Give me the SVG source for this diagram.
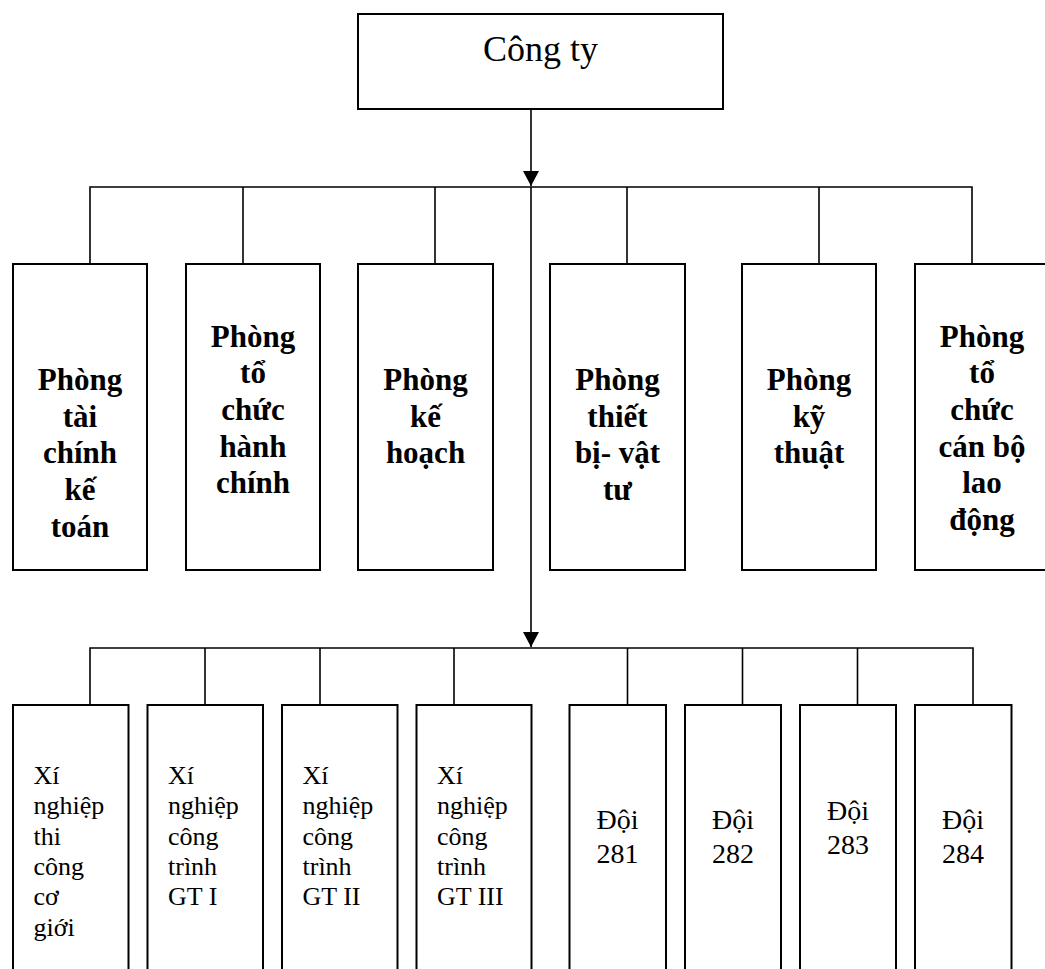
<svg xmlns="http://www.w3.org/2000/svg" width="1045" height="969" viewBox="0 0 1045 969">
<style>
.box{fill:#fff;stroke:#000;stroke-width:2}
.ln{fill:none;stroke:#000;stroke-width:1.6}
.t{font-family:"Liberation Serif","Times New Roman",serif;fill:#000}
.b{font-weight:bold;font-size:31px;text-anchor:middle}
.r{font-size:26px}
.d{font-size:28px;text-anchor:middle}
</style>
<defs>
<marker id="arr" markerWidth="16" markerHeight="16" refX="15" refY="8" orient="auto" markerUnits="userSpaceOnUse">
<path d="M0,0 L15,8 L0,16 Z" fill="#000"/>
</marker>
</defs>
<rect width="1045" height="969" fill="#fff"/>
<g id="connectors">
<line class="ln" x1="531" y1="110" x2="531" y2="186" marker-end="url(#arr)"/>
<polyline class="ln" points="90,263 90,187 972,187 972,263"/>
<line class="ln" x1="243" y1="187" x2="243" y2="263"/>
<line class="ln" x1="435" y1="187" x2="435" y2="263"/>
<line class="ln" x1="627" y1="187" x2="627" y2="263"/>
<line class="ln" x1="819" y1="187" x2="819" y2="263"/>
<line class="ln" x1="531" y1="187" x2="531" y2="647" marker-end="url(#arr)"/>
<polyline class="ln" points="90,705 90,648 973,648 973,705"/>
<line class="ln" x1="205" y1="648" x2="205" y2="705"/>
<line class="ln" x1="320" y1="648" x2="320" y2="705"/>
<line class="ln" x1="454" y1="648" x2="454" y2="705"/>
<line class="ln" x1="627.5" y1="648" x2="627.5" y2="705"/>
<line class="ln" x1="742.5" y1="648" x2="742.5" y2="705"/>
<line class="ln" x1="857.5" y1="648" x2="857.5" y2="705"/>
</g>
<g id="cong-ty">
<rect class="box" x="358" y="14" width="365" height="95"/>
<text class="t" x="540.5" y="61" font-size="36" text-anchor="middle">Công ty</text>
</g>
<g id="p-tai-chinh">
<rect class="box" x="13" y="264" width="134" height="306"/>
<text class="t b"><tspan x="80" y="390">Phòng</tspan><tspan x="80" y="426.7">tài</tspan><tspan x="80" y="463.3">chính</tspan><tspan x="80" y="500">kế</tspan><tspan x="80" y="536.7">toán</tspan></text>
</g>
<g id="p-to-chuc-hanh-chinh">
<rect class="box" x="186" y="264" width="134" height="306"/>
<text class="t b"><tspan x="253" y="346.7">Phòng</tspan><tspan x="253" y="383.3">tổ</tspan><tspan x="253" y="420">chức</tspan><tspan x="253" y="456.7">hành</tspan><tspan x="253" y="493.3">chính</tspan></text>
</g>
<g id="p-ke-hoach">
<rect class="box" x="358" y="264" width="135" height="306"/>
<text class="t b"><tspan x="425.5" y="390">Phòng</tspan><tspan x="425.5" y="426.7">kế</tspan><tspan x="425.5" y="463.3">hoạch</tspan></text>
</g>
<g id="p-thiet-bi">
<rect class="box" x="550" y="264" width="135" height="306"/>
<text class="t b"><tspan x="617.5" y="390">Phòng</tspan><tspan x="617.5" y="426.7">thiết</tspan><tspan x="617.5" y="463.3">bị- vật</tspan><tspan x="617.5" y="500">tư</tspan></text>
</g>
<g id="p-ky-thuat">
<rect class="box" x="742" y="264" width="134" height="306"/>
<text class="t b"><tspan x="809" y="390">Phòng</tspan><tspan x="809" y="426.7">kỹ</tspan><tspan x="809" y="463.3">thuật</tspan></text>
</g>
<g id="p-to-chuc-can-bo">
<rect class="box" x="915" y="264" width="150" height="306"/>
<text class="t b"><tspan x="982" y="346.7">Phòng</tspan><tspan x="982" y="383.3">tổ</tspan><tspan x="982" y="420">chức</tspan><tspan x="982" y="456.7">cán bộ</tspan><tspan x="982" y="493.3">lao</tspan><tspan x="982" y="530">động</tspan></text>
</g>
<g id="xn-co-gioi">
<rect class="box" x="13" y="705" width="115.5" height="280"/>
<text class="t r"><tspan x="33.5" y="784">Xí</tspan><tspan x="33.5" y="814.3">nghiệp</tspan><tspan x="33.5" y="844.6">thi</tspan><tspan x="33.5" y="874.9">công</tspan><tspan x="33.5" y="905.2">cơ</tspan><tspan x="33.5" y="935.5">giới</tspan></text>
</g>
<g id="xn-gt1">
<rect class="box" x="147.5" y="705" width="115.5" height="280"/>
<text class="t r"><tspan x="168" y="784">Xí</tspan><tspan x="168" y="814.3">nghiệp</tspan><tspan x="168" y="844.6">công</tspan><tspan x="168" y="874.9">trình</tspan><tspan x="168" y="905.2">GT I</tspan></text>
</g>
<g id="xn-gt2">
<rect class="box" x="282" y="705" width="115.5" height="280"/>
<text class="t r"><tspan x="302.5" y="784">Xí</tspan><tspan x="302.5" y="814.3">nghiệp</tspan><tspan x="302.5" y="844.6">công</tspan><tspan x="302.5" y="874.9">trình</tspan><tspan x="302.5" y="905.2">GT II</tspan></text>
</g>
<g id="xn-gt3">
<rect class="box" x="416.5" y="705" width="115" height="280"/>
<text class="t r"><tspan x="437" y="784">Xí</tspan><tspan x="437" y="814.3">nghiệp</tspan><tspan x="437" y="844.6">công</tspan><tspan x="437" y="874.9">trình</tspan><tspan x="437" y="905.2">GT III</tspan></text>
</g>
<g id="doi-281">
<rect class="box" x="569.5" y="705" width="96.5" height="280"/>
<text class="t d"><tspan x="617.5" y="829">Đội</tspan><tspan x="617.5" y="862.5">281</tspan></text>
</g>
<g id="doi-282">
<rect class="box" x="685" y="705" width="96" height="280"/>
<text class="t d"><tspan x="733" y="829">Đội</tspan><tspan x="733" y="862.5">282</tspan></text>
</g>
<g id="doi-283">
<rect class="box" x="800" y="705" width="96" height="280"/>
<text class="t d"><tspan x="848" y="820">Đội</tspan><tspan x="848" y="853.5">283</tspan></text>
</g>
<g id="doi-284">
<rect class="box" x="915" y="705" width="96.5" height="280"/>
<text class="t d"><tspan x="963" y="829">Đội</tspan><tspan x="963" y="862.5">284</tspan></text>
</g>
</svg>
